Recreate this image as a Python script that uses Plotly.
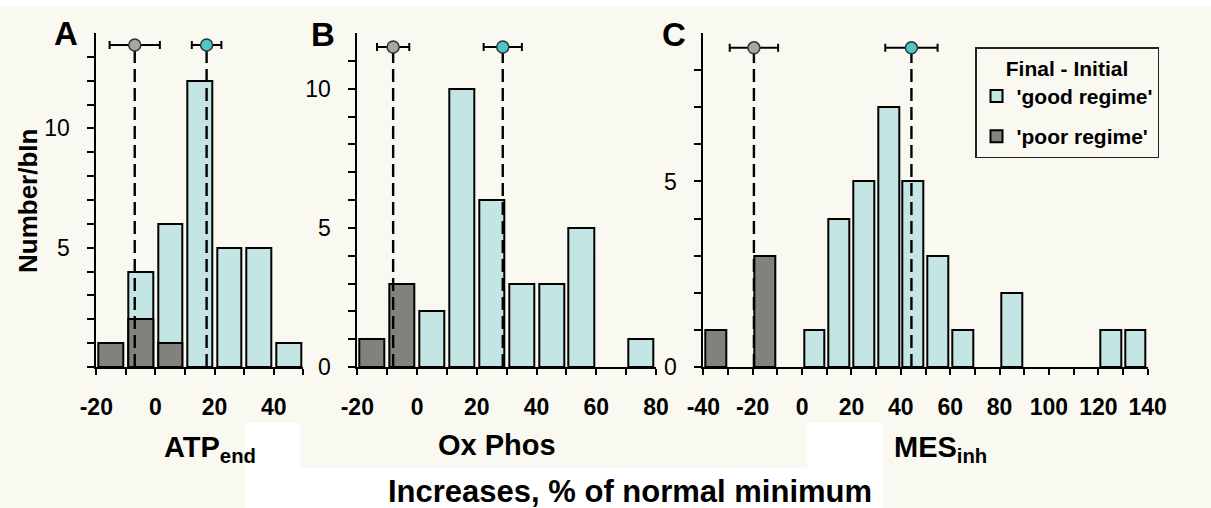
import plotly.graph_objects as go

# ---------------- data ----------------
bin_starts_A = [-20, -10, 0, 10, 20, 30, 40]
good_A = [0, 4, 6, 12, 5, 5, 1]
poor_A = [1, 2, 1, 0, 0, 0, 0]

bin_starts_B = [-20, -10, 0, 10, 20, 30, 40, 50, 60, 70]
good_B = [0, 0, 2, 10, 6, 3, 3, 5, 0, 1]
poor_B = [1, 3, 0, 0, 0, 0, 0, 0, 0, 0]

bin_starts_C = [-40, -30, -20, -10, 0, 10, 20, 30, 40, 50, 60, 70, 80, 90, 100, 110, 120, 130]
good_C = [0, 0, 0, 0, 1, 4, 5, 7, 5, 3, 1, 0, 2, 0, 0, 0, 1, 1]
poor_C = [1, 0, 3, 0, 0, 0, 0, 0, 0, 0, 0, 0, 0, 0, 0, 0, 0, 0]

# means +/- error (top of each panel)
mean_poor = [-7.0, -8.0, -19.5]
err_poor = [8.5, 5.4, 9.8]
mean_good = [17.3, 28.7, 44.3]
err_good = [5.0, 6.4, 10.6]
mean_y = [13.5, 11.5, 8.6]

x_ranges = [(-20, 50), (-20, 80), (-40, 140)]
y_max = [14, 12, 9]
y_labelled = [[5, 10], [0, 5, 10], [0, 5]]
panel_letters = ["A", "B", "C"]
axis_titles = ["ATP<sub>end</sub>", "Ox Phos", "MES<sub>inh</sub>"]
common_title = "Increases, % of normal minimum"
y_title = "Number/bIn"
legend_title = "Final - Initial"
name_good = "'good regime'"
name_poor = "'poor regime'"

# ---------------- style ----------------
W, H = 1211, 508
CREAM = "#FAF9F1"
GOOD_FILL = "#C3E5E4"
POOR_FILL = "#82827D"
GOOD_MARK = "#4DC6C8"
POOR_MARK = "#A7A7A4"
FONT = "Liberation Sans, Arial, sans-serif"
NB = "\u00a0\u00a0"  # pushes right-aligned y tick labels away from the axis

# pixel geometry of panels (left, right), common top/bottom
px_x = [(96.3, 303.3), (357.3, 656.0), (703.3, 1147.7)]
px_top, px_bottom = 33.0, 367.0


def fx(px):
    return px / W


def fy(py):
    return 1 - py / H


panels = [
    (bin_starts_A, good_A, poor_A),
    (bin_starts_B, good_B, poor_B),
    (bin_starts_C, good_C, poor_C),
]

fig = go.Figure()
layout_axes = {}

for i, (starts, good, poor) in enumerate(panels):
    sfx = "" if i == 0 else str(i + 1)
    xa, ya = "x" + sfx, "y" + sfx
    centers = [s + 5 for s in starts]
    fig.add_trace(go.Bar(
        x=centers, y=[v if v > 0 else None for v in good], width=8.4,
        marker=dict(color=GOOD_FILL, opacity=1, line=dict(color="black", width=2)),
        name="<b>" + name_good + "</b>", legendgroup="good", showlegend=(i == 0),
        xaxis=xa, yaxis=ya, hoverinfo="skip"))
    fig.add_trace(go.Bar(
        x=centers, y=[v if v > 0 else None for v in poor], width=8.4,
        marker=dict(color=POOR_FILL, opacity=1, line=dict(color="black", width=2)),
        name="<b>" + name_poor + "</b>", legendgroup="poor", showlegend=(i == 0),
        xaxis=xa, yaxis=ya, hoverinfo="skip"))
    for m, e, col in ((mean_poor[i], err_poor[i], POOR_MARK), (mean_good[i], err_good[i], GOOD_MARK)):
        fig.add_trace(go.Scatter(
            x=[m, m], y=[0, mean_y[i]], mode="lines",
            line=dict(color="black", width=2.4, dash="13px,6px"),
            showlegend=False, xaxis=xa, yaxis=ya, hoverinfo="skip"))
        fig.add_trace(go.Scatter(
            x=[m], y=[mean_y[i]], mode="markers",
            marker=dict(size=12, color=col, line=dict(color="#333333", width=1.5)),
            error_x=dict(type="data", array=[e], color="black", thickness=2, width=4),
            showlegend=False, xaxis=xa, yaxis=ya, hoverinfo="skip", cliponaxis=False))

    lo, hi = x_ranges[i]
    xt = list(range(lo, hi + 1, 10))
    layout_axes["xaxis" + sfx] = dict(
        domain=[fx(px_x[i][0]), fx(px_x[i][1])], anchor=ya, range=[lo, hi],
        showline=True, linecolor="black", linewidth=2, showgrid=False, zeroline=False,
        ticks="outside", ticklen=6, tickwidth=2, tickcolor="black",
        tickvals=xt, ticktext=[str(v) if v % 20 == 0 else "" for v in xt],
        tickfont=dict(family=FONT, size=23, color="black", weight="bold"),
        ticklabelstandoff=12, automargin=False, fixedrange=True)
    yt = list(range(0, y_max[i]))
    layout_axes["yaxis" + sfx] = dict(
        domain=[fy(px_bottom), fy(px_top)], anchor=xa, range=[0, y_max[i]],
        showline=True, linecolor="black", linewidth=2, showgrid=False, zeroline=False,
        ticks="outside", ticklen=7, tickwidth=2, tickcolor="black",
        tickvals=yt, ticktext=[str(v) + NB if v in y_labelled[i] else "" for v in yt],
        tickfont=dict(family=FONT, size=23, color="black"),
        automargin=False, fixedrange=True)

# background: cream with white cut-outs (paper coordinates)
cream_rects = [
    (0, 6, W, 423),
    (0, 423, 245, H),
    (300, 423, 807, 468),
    (883, 423, W, H),
]
shapes = [dict(type="rect", xref="paper", yref="paper", layer="below",
               x0=fx(a), x1=fx(c), y0=fy(d), y1=fy(b),
               fillcolor=CREAM, line=dict(width=0))
          for a, b, c, d in cream_rects]

annotations = []
for letter, (cx, cy) in zip(panel_letters, [(66, 34), (323, 35), (674, 35)]):
    annotations.append(dict(text="<b>" + letter + "</b>", x=fx(cx), y=fy(cy), xref="paper", yref="paper",
                            showarrow=False, xanchor="center", yanchor="middle",
                            font=dict(family=FONT, size=33, color="black")))
for t, (cx, cy) in zip(axis_titles, [(210, 449), (497, 445), (940, 449)]):
    annotations.append(dict(text="<b>" + t + "</b>", x=fx(cx), y=fy(cy), xref="paper", yref="paper",
                            showarrow=False, xanchor="center", yanchor="middle",
                            font=dict(family=FONT, size=29, color="black")))
annotations.append(dict(text="<b>" + common_title + "</b>", x=fx(630), y=fy(491), xref="paper", yref="paper",
                        showarrow=False, xanchor="center", yanchor="middle",
                        font=dict(family=FONT, size=31, color="black")))
annotations.append(dict(text="<b>" + y_title + "</b>", x=fx(28), y=fy(201), xref="paper", yref="paper",
                        showarrow=False, xanchor="center", yanchor="middle", textangle=-90,
                        font=dict(family=FONT, size=26, color="black")))

fig.update_layout(
    width=W, height=H, margin=dict(l=0, r=0, t=0, b=0),
    paper_bgcolor="white", plot_bgcolor="rgba(0,0,0,0)",
    barmode="overlay", bargap=0,
    shapes=shapes, annotations=annotations,
    font=dict(family=FONT, color="black"),
    legend=dict(x=fx(975), y=fy(47), xanchor="left", yanchor="top",
                bgcolor=CREAM, bordercolor="#222222", borderwidth=1.5,
                font=dict(family=FONT, size=21, color="black"),
                title=dict(text="<b>" + legend_title + "</b>", side="top center",
                           font=dict(family=FONT, size=21, color="black")),
                tracegroupgap=10, itemclick=False, itemdoubleclick=False),
    **layout_axes,
)

fig.write_html("out.html", config={"displayModeBar": False},
               post_script="document.body.style.margin='0';document.body.style.overflow='hidden';")
